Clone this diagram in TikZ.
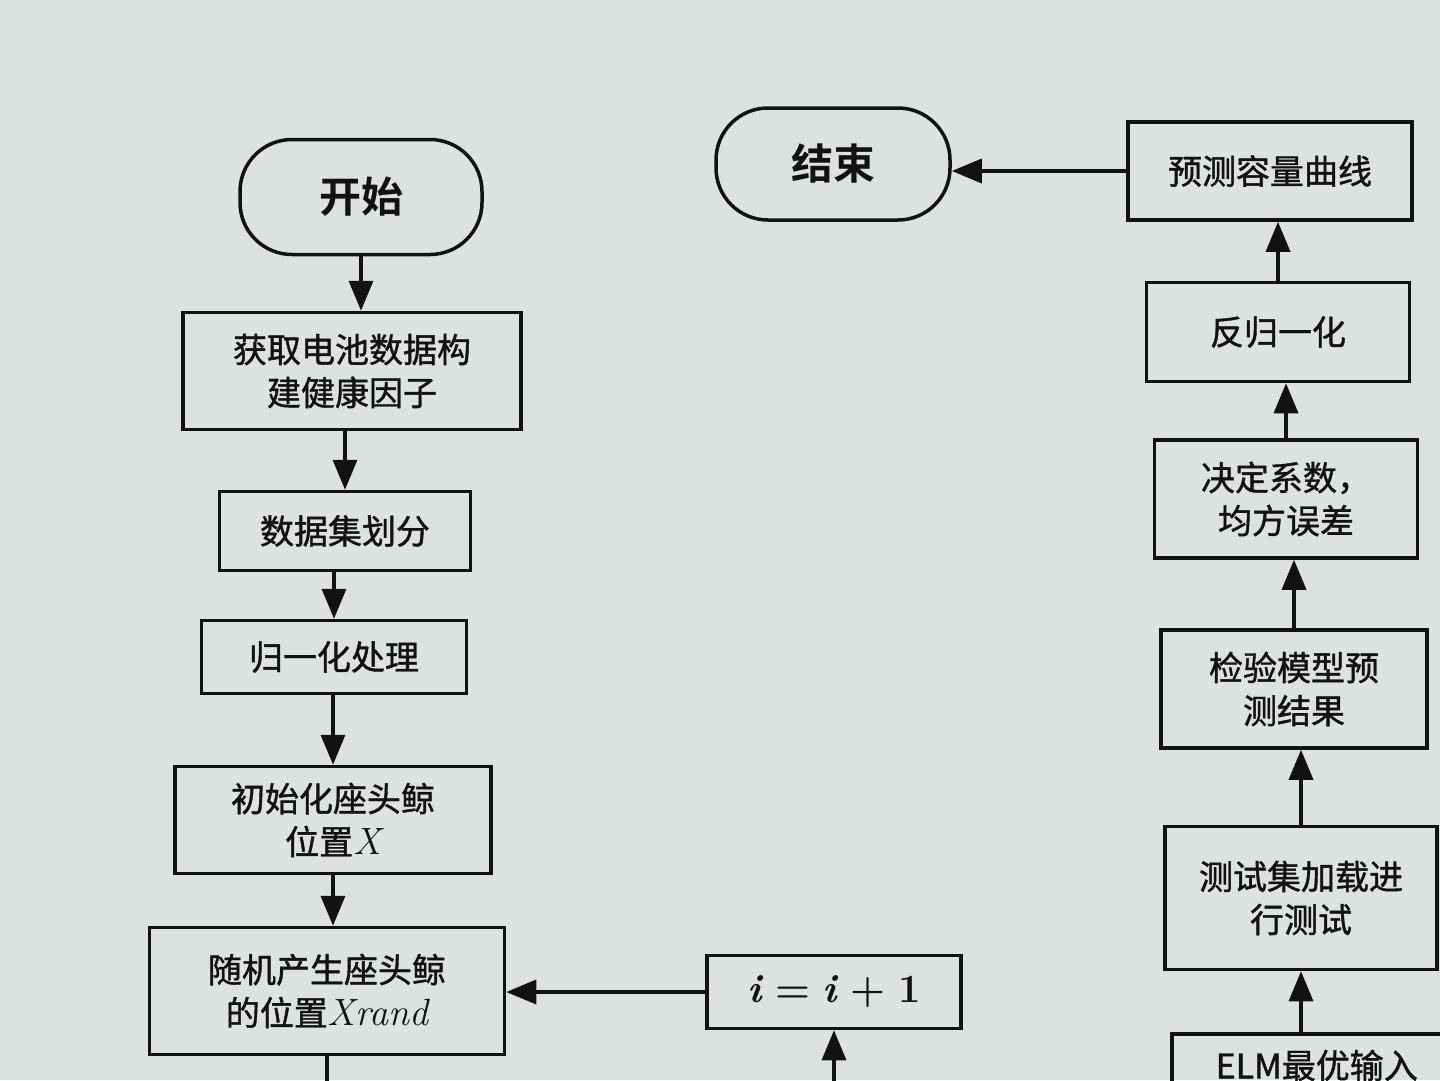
\documentclass[tikz,border=0pt]{standalone}
\usepackage{fontspec}
\newfontfamily\cjk[FakeBold=1.2]{Noto Sans CJK SC}
\newfontfamily\cjkb{Noto Sans CJK SC Bold}
\newfontfamily\lmr{Latin Modern Roman}
\usetikzlibrary{arrows.meta}
\definecolor{bg}{RGB}{221,226,225}
\definecolor{ink}{RGB}{18,18,18}
\newcommand{\mi}[1]{{\lmr\itshape\fontsize{38}{43}\selectfont #1}}
\begin{document}
\begin{tikzpicture}[x=1pt,y=-1pt,
  box/.style={draw=ink, line width=3.5pt, align=center, inner sep=0pt,
    font=\cjk\fontsize{34}{43}\selectfont, text=ink},
  term/.style={box, rounded corners=52pt, font=\cjkb\fontsize{42}{50}\selectfont},
  arr/.style={draw=ink, line width=3.5pt, -{Triangle[length=30pt,width=24pt]}},
  plain/.style={draw=ink, line width=3.5pt}]
\fill[bg] (0,0) rectangle (1440,1080);
\useasboundingbox (0,0) rectangle (1440,1080);
\clip (0,0) rectangle (1440,1080);
% left column
\node[term, minimum width=242pt, minimum height=115pt] (start) at (361,197) {开始};
\node[box, minimum width=338pt, minimum height=117pt] (get) at (352,371) {获取电池数据构\\建健康因子};
\node[box, minimum width=251pt, minimum height=79pt] (split) at (345,531) {数据集划分};
\node[box, minimum width=265pt, minimum height=73pt] (norm) at (334,657) {归一化处理};
\node[box, minimum width=316pt, minimum height=107pt] (init) at (333,820) {初始化座头鲸\\位置\mi{X}};
\node[box, minimum width=355pt, minimum height=127pt] (rand) at (327,991) {随机产生座头鲸\\的位置\mi{Xrand}};
% middle
\node[term, minimum width=234pt, minimum height=112pt] (end) at (833,164) {结束};
\node[box, minimum width=254pt, minimum height=73pt, font=\lmr\fontsize{40}{44}\selectfont] (inc) at (834,992) {{\bfseries\itshape i} \textbf{=} {\bfseries\itshape i} \textbf{+} {\bfseries 1}};
% right column
\node[box, minimum width=284pt, minimum height=98pt] (curve) at (1270,171) {预测容量曲线};
\node[box, minimum width=263pt, minimum height=99pt] (denorm) at (1278,332) {反归一化};
\node[box, minimum width=263pt, minimum height=118pt] (r2) at (1286,499) {决定系数，\\均方误差};
\node[box, minimum width=266pt, minimum height=118pt] (check) at (1294,689) {检验模型预\\测结果};
\node[box, minimum width=272pt, minimum height=143pt] (test) at (1301,898) {测试集加载进\\行测试};
\node[box, anchor=north west, minimum width=290pt, inner ysep=16pt] (elm) at (1170,1032) {ELM最优输入\\[40pt]};
% off-canvas ends
\coordinate (randout) at (327,1110);
\coordinate (incin) at (834,1110);
% connectors
\draw[arr] (start.south) -- (start.south |- get.north);
\draw[arr] (get.south -| split.north) -- (split.north);
\draw[arr] (split.south -| norm.north) -- (norm.north);
\draw[arr] (norm.south -| init.north) -- (init.north);
\draw[arr] (init.south) -- (init.south |- rand.north);
\draw[plain] (rand.south) -- (randout);
\draw[arr] (incin) -- (inc.south);
\draw[arr] (inc.west) -- (inc.west -| rand.east);
\draw[arr] (elm.north -| test.south) -- (test.south);
\draw[arr] (test.north) -- (test.north |- check.south);
\draw[arr] (check.north) -- (check.north |- r2.south);
\draw[arr] (r2.north) -- (r2.north |- denorm.south);
\draw[arr] (denorm.north) -- (denorm.north |- curve.south);
\draw[arr] (curve.west) -- (curve.west -| end.east);
\end{tikzpicture}
\end{document}
